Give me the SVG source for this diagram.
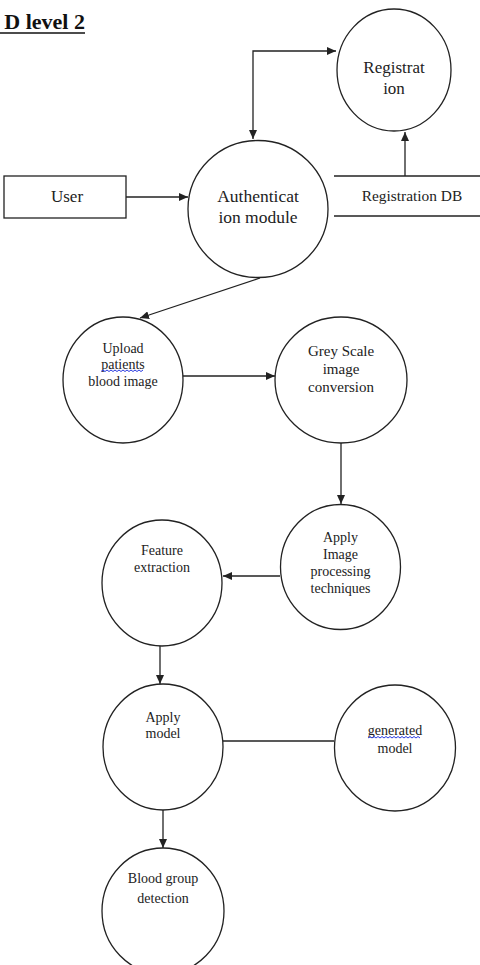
<svg xmlns="http://www.w3.org/2000/svg" width="480" height="965" viewBox="0 0 480 965">
<style>
.n{fill:#fff;stroke:#222;stroke-width:1.3}
.c{fill:none;stroke:#222;stroke-width:1.3}
.t{font-family:"Liberation Serif","Times New Roman",serif;fill:#222;text-anchor:middle}
.w{fill:none;stroke:#2a3be0;stroke-width:1}
</style>
<defs>
<marker id="ah" markerUnits="userSpaceOnUse" markerWidth="10" markerHeight="8" refX="9" refY="4" orient="auto-start-reverse">
<path d="M0,0 L9,4 L0,8 Z" fill="#222"/>
</marker>
</defs>
<rect width="480" height="965" fill="#fff"/>
<g id="title">
<text x="85" y="29" font-family="Liberation Serif, serif" font-weight="bold" font-size="22" text-anchor="end" fill="#111">D level 2</text>
<line x1="0" y1="33" x2="85" y2="33" stroke="#111" stroke-width="1.5"/>
</g>
<g id="connectors">
<path class="c" d="M253,139 V51 H336" marker-start="url(#ah)" marker-end="url(#ah)"/>
<line class="c" x1="126" y1="197" x2="188" y2="197" marker-end="url(#ah)"/>
<line class="c" x1="405" y1="176" x2="405" y2="132" marker-end="url(#ah)"/>
<line class="c" x1="260" y1="278" x2="140" y2="318" marker-end="url(#ah)"/>
<line class="c" x1="183" y1="376" x2="275" y2="376" marker-end="url(#ah)"/>
<line class="c" x1="341" y1="443" x2="341" y2="504" marker-end="url(#ah)"/>
<line class="c" x1="280" y1="576" x2="223" y2="576" marker-end="url(#ah)"/>
<line class="c" x1="160" y1="646" x2="160" y2="684" marker-end="url(#ah)"/>
<line class="c" x1="223" y1="741" x2="334" y2="741"/>
<line class="c" x1="163" y1="810" x2="163" y2="848" marker-end="url(#ah)"/>
</g>
<g id="registration">
<ellipse class="n" cx="394" cy="70" rx="57" ry="61"/>
<text class="t" x="394" y="73" font-size="17">Registrat</text>
<text class="t" x="394" y="94" font-size="17">ion</text>
</g>
<g id="user">
<rect class="n" x="4" y="176" width="122" height="42"/>
<text class="t" x="67" y="202" font-size="17">User</text>
</g>
<g id="registration-db">
<line class="c" x1="334" y1="176" x2="480" y2="176"/>
<line class="c" x1="334" y1="216" x2="480" y2="216"/>
<text class="t" x="412" y="201" font-size="15.4">Registration DB</text>
</g>
<g id="authentication">
<ellipse class="n" cx="258" cy="209" rx="70" ry="68.5"/>
<text class="t" x="258" y="202" font-size="17.5">Authenticat</text>
<text class="t" x="258" y="223" font-size="17.5">ion module</text>
</g>
<g id="upload">
<ellipse class="n" cx="123" cy="380" rx="60" ry="63"/>
<text class="t" x="123" y="353" font-size="14">Upload</text>
<text class="t" x="123" y="369" font-size="14">patients</text>
<path class="w" d="M101,371.5 l2,-1.5 l2,1.5 l2,-1.5 l2,1.5 l2,-1.5 l2,1.5 l2,-1.5 l2,1.5 l2,-1.5 l2,1.5 l2,-1.5 l2,1.5 l2,-1.5 l2,1.5 l2,-1.5 l2,1.5 l2,-1.5 l2,1.5 l2,-1.5 l2,1.5 l2,-1.5"/>
<text class="t" x="123" y="386" font-size="14">blood image</text>
</g>
<g id="greyscale">
<ellipse class="n" cx="341" cy="380" rx="66" ry="63"/>
<text class="t" x="341" y="356" font-size="15">Grey Scale</text>
<text class="t" x="341" y="374" font-size="15">image</text>
<text class="t" x="341" y="392" font-size="15">conversion</text>
</g>
<g id="apply-image">
<ellipse class="n" cx="340.5" cy="567" rx="60" ry="62.5"/>
<text class="t" x="340.5" y="542" font-size="14">Apply</text>
<text class="t" x="340.5" y="559" font-size="14">Image</text>
<text class="t" x="340.5" y="576" font-size="14">processing</text>
<text class="t" x="340.5" y="593" font-size="14">techniques</text>
</g>
<g id="feature">
<ellipse class="n" cx="162" cy="583" rx="60" ry="63"/>
<text class="t" x="162" y="555" font-size="14">Feature</text>
<text class="t" x="162" y="572" font-size="14">extraction</text>
</g>
<g id="apply-model">
<ellipse class="n" cx="163" cy="747" rx="60" ry="63"/>
<text class="t" x="163" y="722" font-size="14">Apply</text>
<text class="t" x="163" y="738" font-size="14">model</text>
</g>
<g id="generated-model">
<ellipse class="n" cx="395" cy="748" rx="60.5" ry="63"/>
<text class="t" x="395" y="735" font-size="14">generated</text>
<path class="w" d="M368,738 l2,-1.5 l2,1.5 l2,-1.5 l2,1.5 l2,-1.5 l2,1.5 l2,-1.5 l2,1.5 l2,-1.5 l2,1.5 l2,-1.5 l2,1.5 l2,-1.5 l2,1.5 l2,-1.5 l2,1.5 l2,-1.5 l2,1.5 l2,-1.5 l2,1.5 l2,-1.5 l2,1.5 l2,-1.5 l2,1.5 l2,-1.5 l2,1.5"/>
<text class="t" x="395" y="753" font-size="14">model</text>
</g>
<g id="blood-group">
<ellipse class="n" cx="163" cy="911" rx="61" ry="63"/>
<text class="t" x="163" y="883" font-size="14">Blood group</text>
<text class="t" x="163" y="903" font-size="14">detection</text>
</g>
</svg>
